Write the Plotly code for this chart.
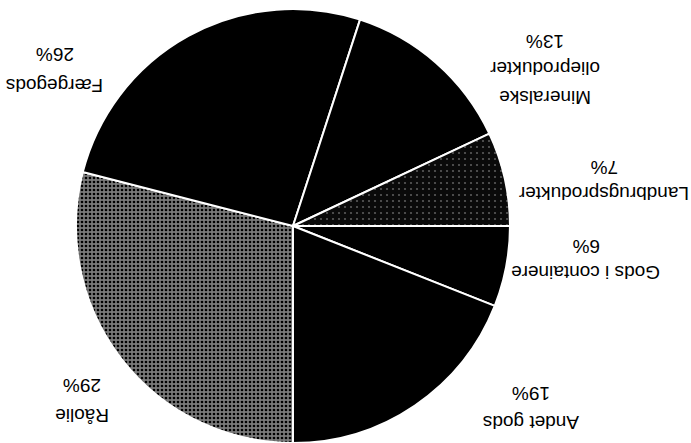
import plotly.graph_objects as go

W, H = 691, 443

labels = ["Råolie", "Færgegods", "Mineralske olieprodukter", "Landbrugsprodukter",
          "Gods i containere", "Andet gods"]
values = [29, 26, 13, 7, 6, 19]
# label lines as displayed (name lines, then percent)
label_lines = [["Råolie"], ["Færgegods"], ["Mineralske", "olieprodukter"],
               ["Landbrugsprodukter"], ["Gods i containere"], ["Andet gods"]]
colors = ["#7a7a7a", "#000000", "#000000", "#0a0a0a", "#000000", "#000000"]

# label line pixel positions (x, [y per line incl. percent])
label_pos = [
    (82, [416, 386]),
    (55, [86, 54]),
    (545, [98, 68, 41]),
    (604, [193, 167]),
    (586, [273, 247]),
    (531, [423, 394]),
]

fig = go.Figure()
fig.add_trace(go.Pie(
    labels=labels,
    values=values,
    sort=False,
    direction="clockwise",
    rotation=180,
    textinfo="none",
    hoverinfo="label+percent",
    showlegend=False,
    marker=dict(
        colors=colors,
        line=dict(color="white", width=2),
        pattern=dict(
            shape=[".", "", "", ".", "", ""],
            fgcolor=["#000000", "#000000", "#000000", "#5a5a5a", "#000000", "#000000"],
            bgcolor=colors,
            size=[4, 8, 8, 6, 8, 8],
            solidity=[0.35, 0.2, 0.2, 0.1, 0.2, 0.2],
            fillmode="replace",
        ),
    ),
    domain=dict(x=[0.074, 0.774], y=[0, 434 / H]),
))

annotations = []
for i, (x, ys) in enumerate(label_pos):
    texts = label_lines[i] + [f"{values[i]}%"]
    for t, y in zip(texts, ys):
        annotations.append(dict(
            text=t, x=x / W, y=1 - y / H, xref="paper", yref="paper",
            showarrow=False, textangle=180, xanchor="center", yanchor="middle",
            font=dict(family="Liberation Sans, Arial, sans-serif", size=19, color="black"),
        ))

fig.update_layout(
    width=W, height=H,
    margin=dict(l=0, r=0, t=0, b=0),
    paper_bgcolor="white",
    plot_bgcolor="white",
    annotations=annotations,
)

fig.write_html("out.html", config={"displayModeBar": False},
               post_script="document.body.style.margin='0px';")
